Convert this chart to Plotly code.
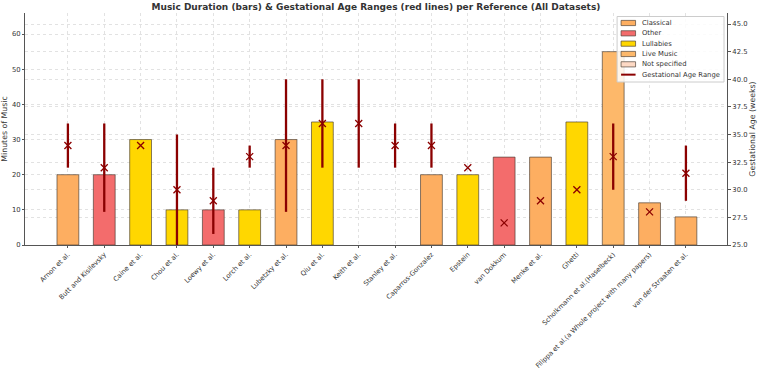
import plotly.graph_objects as go

# ---------------- data ----------------
references = [
    "Arnon et al.", "Butt and Kisilevsky", "Caine et al.", "Chou et al.",
    "Loewy et al.", "Lorch et al.", "Lubetzky et al.", "Qiu et al.",
    "Keith et al.", "Stanley et al.", "Caparros-Gonzalez", "Epstein",
    "van Dokkum", "Menke et al.", "Ghetti", "Scholkmann et al.(Haselbeck)",
    "Filippa et al.(a Whole project with many papers)", "van der Straaten et al.",
]
minutes = [20, 20, 30, 10, 10, 10, 30, 35, None, None, 20, 20, 25, 25, 35, 55, 12, 8]
genres = [
    "Classical", "Other", "Lullabies", "Lullabies", "Other", "Lullabies",
    "Classical", "Lullabies", "Not specified", "Not specified", "Classical",
    "Lullabies", "Other", "Classical", "Lullabies", "Live Music", "Classical",
    "Classical",
]
ga_min = [32, 28, 34, 25, 26, 32, 28, 32, 32, 32, 32, 32, 27, 29, 30, 30, 28, 29]
ga_max = [36, 36, 34, 35, 32, 34, 40, 40, 40, 36, 36, 32, 27, 29, 30, 36, 28, 34]
ga_mark = [34, 32, 34, 30, 29, 33, 34, 36, 36, 34, 34, 32, 27, 29, 30, 33, 28, 31.5]

genre_order = ["Classical", "Other", "Lullabies", "Live Music", "Not specified"]
genre_colors = {
    "Classical": "#FDAE61",
    "Other": "#F36C6C",
    "Lullabies": "#FFD700",
    "Live Music": "#FDB86A",
    "Not specified": "#FDD9C4",
}
range_label = "Gestational Age Range"

# ---------------- styles ----------------
FONT = "DejaVu Sans"
TXT = "#333333"
AX = "#555555"
GRID = "#e2e2e2"
RED = "#8B0000"
EDGE = "rgba(70,60,50,0.65)"

fig = go.Figure()

for g in genre_order:
    xs = [r for r, gg in zip(references, genres) if gg == g]
    ys = [m for m, gg in zip(minutes, genres) if gg == g]
    fig.add_trace(go.Bar(
        x=xs, y=ys, name=g, width=0.6,
        marker=dict(color=genre_colors[g], line=dict(color=EDGE, width=1)),
        showlegend=False, yaxis="y",
    ))

lx, ly = [], []
for r, a, b in zip(references, ga_min, ga_max):
    lx += [r, r, None]
    ly += [a, b, None]
fig.add_trace(go.Scatter(
    x=lx, y=ly, mode="lines", name=range_label, yaxis="y2",
    line=dict(color=RED, width=2.3), showlegend=False, connectgaps=False,
))
fig.add_trace(go.Scatter(
    x=references, y=ga_mark, mode="markers", yaxis="y2", showlegend=False,
    marker=dict(symbol="x-thin", size=7, line=dict(color=RED, width=1.3), color=RED),
))

# ---------------- custom legend (matplotlib-like compact box) ----------------
px0, pw, ptop, ph = 24.5, 702.5, 13, 232
def fx(p):
    return (p - px0) / pw
def fy(p):
    return (ptop + ph - p) / ph

shapes = [dict(type="rect", xref="paper", yref="paper",
               x0=fx(617), x1=fx(724), y0=fy(82), y1=fy(16.5),
               fillcolor="rgba(255,255,255,0.85)", line=dict(color="#cccccc", width=1),
               layer="above")]
annotations = []
labels = genre_order + [range_label]
for i, lab in enumerate(labels):
    cy = 23 + i * 10.33
    if lab in genre_colors:
        shapes.append(dict(type="rect", xref="paper", yref="paper",
                           x0=fx(621), x1=fx(635.5), y0=fy(cy + 2.6), y1=fy(cy - 2.6),
                           fillcolor=genre_colors[lab], line=dict(color=EDGE, width=1),
                           layer="above"))
    else:
        shapes.append(dict(type="line", xref="paper", yref="paper",
                           x0=fx(621), x1=fx(635.5), y0=fy(cy), y1=fy(cy),
                           line=dict(color=RED, width=2), layer="above"))
    annotations.append(dict(text=lab, xref="paper", yref="paper", x=fx(640), y=fy(cy),
                            xanchor="left", yanchor="middle", showarrow=False,
                            font=dict(family=FONT, size=6.8, color=TXT)))

fig.update_layout(
    width=760, height=374,
    margin=dict(l=24.5, r=33, t=13, b=129),
    paper_bgcolor="white", plot_bgcolor="white",
    barmode="overlay",
    font=dict(family=FONT, size=6.5, color=TXT),
    title=dict(text="<b>Music Duration (bars) & Gestational Age Ranges (red lines) per Reference (All Datasets)</b>",
               x=0.5, xref="paper", xanchor="center", y=1 - 7 / 374, yref="container", yanchor="middle",
               font=dict(family=FONT, size=9, color=TXT)),
    xaxis=dict(type="category", categoryorder="array", categoryarray=references,
               range=[-1.18, 18.13], tickangle=-45, showgrid=True, gridcolor=GRID, griddash="dot",
               gridwidth=1, showline=True, linecolor=AX, linewidth=1, ticks="outside",
               ticklen=2, tickcolor=AX, tickfont=dict(size=6.7, color=TXT), automargin=False),
    yaxis=dict(range=[0, 66], tickvals=[0, 10, 20, 30, 40, 50, 60], showgrid=True, gridcolor=GRID,
               griddash="dot", gridwidth=1, showline=True, linecolor=AX, linewidth=1,
               ticks="outside", ticklen=2, tickcolor=AX, zeroline=False,
               title=dict(text="Minutes of Music", font=dict(size=7.8, color=TXT), standoff=4),
               tickfont=dict(size=6.8, color=TXT), automargin=False),
    yaxis2=dict(overlaying="y", side="right", range=[25, 46], tickvals=[25, 27.5, 30, 32.5, 35, 37.5, 40, 42.5, 45],
                tickformat=".1f", showgrid=True, gridcolor=GRID, griddash="dot", gridwidth=1,
                showline=True, linecolor=AX, linewidth=1, ticks="outside", ticklen=3, tickcolor=AX,
                zeroline=False,
                title=dict(text="Gestational Age (weeks)", font=dict(size=7.8, color=TXT), standoff=3),
                tickfont=dict(size=6.8, color=TXT), automargin=False),
    shapes=shapes, annotations=annotations,
)

fig.write_html("out.html")
